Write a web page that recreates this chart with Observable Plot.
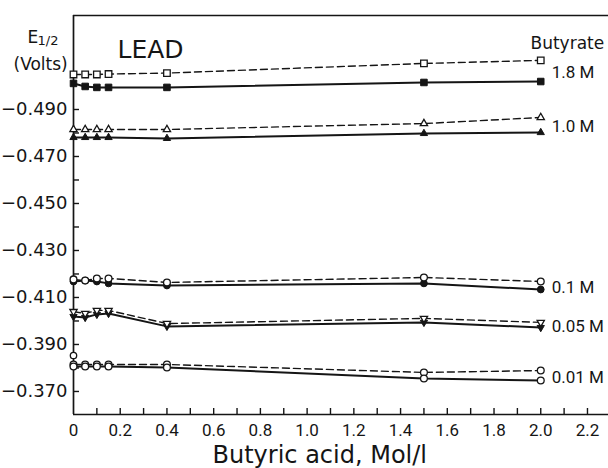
<!DOCTYPE html>
<html><head><meta charset="utf-8">
<script src="https://cdn.jsdelivr.net/npm/d3@7"></script>
<script src="https://cdn.jsdelivr.net/npm/@observablehq/plot@0.6"></script>
<style>
body{margin:0;background:#fff;}
#wrap{width:608px;height:468px;}
</style></head><body><div id="wrap"></div>
<script>
// ---- data ----
const acid = [0, 0.05, 0.1, 0.15, 0.4, 1.5, 2.0];           // butyric acid, Mol/l
const butyrate = ["1.8 M", "1.0 M", "0.1 M", "0.05 M", "0.01 M"];
// open markers / dashed lines
const open18  = [-0.5049, -0.5049, -0.5049, -0.5051, -0.5055, -0.5096, -0.5109];
const open10  = [-0.4815, -0.4815, -0.4815, -0.4815, -0.4815, -0.4840, -0.4866];
const open01  = [-0.4177, -0.4172, -0.4181, -0.4181, -0.4164, -0.4185, -0.4168];
const open005 = [-0.4040, -0.4032, -0.4045, -0.4045, -0.3989, -0.4011, -0.3994];
const open001 = [-0.3815, -0.3815, -0.3815, -0.3815, -0.3815, -0.3781, -0.3789];
// filled markers / solid lines
const filled18  = [-0.5011, -0.4998, -0.4994, -0.4994, -0.4994, -0.5015, -0.5019];
const filled10  = [-0.4781, -0.4781, -0.4781, -0.4781, -0.4777, -0.4798, -0.4802];
const filled01  = [-0.4168, -0.4172, -0.4168, -0.4160, -0.4151, -0.4160, -0.4134];
const filled005 = [-0.4019, -0.4015, -0.4028, -0.4032, -0.3977, -0.3994, -0.3972];
const filled001 = [-0.3806, -0.3806, -0.3806, -0.3806, -0.3802, -0.3755, -0.3747];
// lone point at x = 0 above the 0.01 M curves
const strayAcid = [0];
const strayE = [-0.3853];
// axes
const yTickLabels = [-0.49, -0.47, -0.45, -0.43, -0.41, -0.39, -0.37];
const yMinorTicks = [-0.48, -0.46, -0.44, -0.42, -0.40, -0.38];
const xTickLabels = [0, 0.2, 0.4, 0.6, 0.8, 1.0, 1.2, 1.4, 1.6, 1.8, 2.0, 2.2];
const xTicks = [0.1, 0.2, 0.3, 0.4, 0.5, 0.6, 0.7, 0.8, 0.9, 1.0, 1.1, 1.2, 1.3, 1.4, 1.5, 1.6, 1.7, 1.8, 1.9, 2.0, 2.1, 2.2];

// ---- build tables ----
const openSeries = [open18, open10, open01, open005, open001];
const filledSeries = [filled18, filled10, filled01, filled005, filled001];
const shapeOf = ["square", "triangle", "circle", "tridown", "circle"];
const rows = [];
butyrate.forEach((s, i) => {
  acid.forEach((a, j) => {
    rows.push({series: s, kind: "open", shape: shapeOf[i], x: a, y: openSeries[i][j]});
    rows.push({series: s, kind: "filled", shape: shapeOf[i], x: a, y: filledSeries[i][j]});
  });
});
const labelRows = butyrate.map((s, i) => ({
  text: s,
  x: acid[acid.length - 1],
  y: (openSeries[i][acid.length - 1] + filledSeries[i][acid.length - 1]) / 2
}));
const stray = strayAcid.map((a, i) => ({x: a, y: strayE[i]}));

const sqrt3 = Math.sqrt(3);
const triangleDown = {
  draw(context, size) {
    const y = -Math.sqrt(size / (sqrt3 * 3));
    context.moveTo(0, -y * 2);
    context.lineTo(-sqrt3 * y, y);
    context.lineTo(sqrt3 * y, y);
    context.closePath();
  }
};
const symbolOf = {square: "square", triangle: "triangle", circle: "circle", tridown: triangleDown};
const rOf = {square: 3.7, triangle: 2.7, circle: 3.4, tridown: 2.7};
const ink = "#151515";

const dotMarks = [];
for (const sh of ["square", "triangle", "circle", "tridown"]) {
  const openR = rows.filter(d => d.shape === sh && (d.kind === "open" || d.series === "0.01 M"));
  const fillR = rows.filter(d => d.shape === sh && d.kind === "filled" && d.series !== "0.01 M");
  dotMarks.push(Plot.dot(fillR, {x: "x", y: "y", symbol: symbolOf[sh], r: rOf[sh], fill: ink, stroke: ink, strokeWidth: 1}));
  dotMarks.push(Plot.dot(openR, {x: "x", y: "y", symbol: symbolOf[sh], r: rOf[sh], fill: "white", stroke: ink, strokeWidth: 1.3}));
}

const yLo = -0.3602, yHi = -0.530;
const note = (t, anchor, dx, dy, size) =>
  Plot.text([t], {text: d => d, frameAnchor: anchor, dx, dy, textAnchor: "start", lineAnchor: "middle", fontSize: size, fill: ink});

const chart = Plot.plot({
  width: 608, height: 468,
  marginTop: 15, marginBottom: 54, marginLeft: 73, marginRight: 0,
  x: {domain: [0, 2.29]},
  y: {domain: [yLo, yHi]},
  style: {fontFamily: "DejaVu Sans, sans-serif", color: ink, background: "white", overflow: "visible"},
  marks: [
    // frame (left, top, bottom)
    Plot.ruleX([0], {stroke: ink, strokeWidth: 1.7}),
    Plot.ruleY([yLo], {stroke: ink, strokeWidth: 1.7}),
    Plot.ruleY([yHi], {stroke: ink, strokeWidth: 1.4}),
    // inward ticks
    Plot.ruleY(yTickLabels.concat(yMinorTicks), {stroke: ink, strokeWidth: 1.4, insetRight: 529}),
    Plot.ruleX(xTicks, {stroke: ink, strokeWidth: 1.4, insetTop: 393}),
    // tick labels
    Plot.axisY({ticks: yTickLabels, tickSize: 0, tickPadding: 6, tickFormat: d3.format(".3f"), fontSize: 18, label: null}),
    Plot.axisX({ticks: xTickLabels, tickSize: 0, tickPadding: 9, tickFormat: d => d === 0 ? "0" : d.toFixed(1), fontSize: 17, fontFamily: "Roboto", label: null}),
    // curves
    Plot.line(rows.filter(d => d.kind === "open"), {x: "x", y: "y", z: "series", stroke: ink, strokeWidth: 1.4, strokeDasharray: "7,4"}),
    Plot.line(rows.filter(d => d.kind === "filled"), {x: "x", y: "y", z: "series", stroke: ink, strokeWidth: 2}),
    ...dotMarks,
    Plot.dot(stray, {x: "x", y: "y", symbol: "circle", r: 3.2, fill: "white", stroke: ink, strokeWidth: 1.3}),
    // series labels
    Plot.text(labelRows, {x: "x", y: "y", text: "text", dx: 11, dy: 2, textAnchor: "start", fontSize: 17, fontFamily: "Roboto", fill: ink}),
    // annotations
    note("LEAD", "top-left", 44, 34, 25),
    note("Butyrate", "top-left", 457, 28, 17),
    note("E", "top-left", -46, 22, 17),
    note("1/2", "top-left", -36, 25, 13),
    note("(Volts)", "top-left", -60, 49, 17),
    note("Butyric acid, Mol/l", "bottom-left", 139, 41, 24)
  ]
});
document.getElementById("wrap").appendChild(chart);
</script>
</body></html>
